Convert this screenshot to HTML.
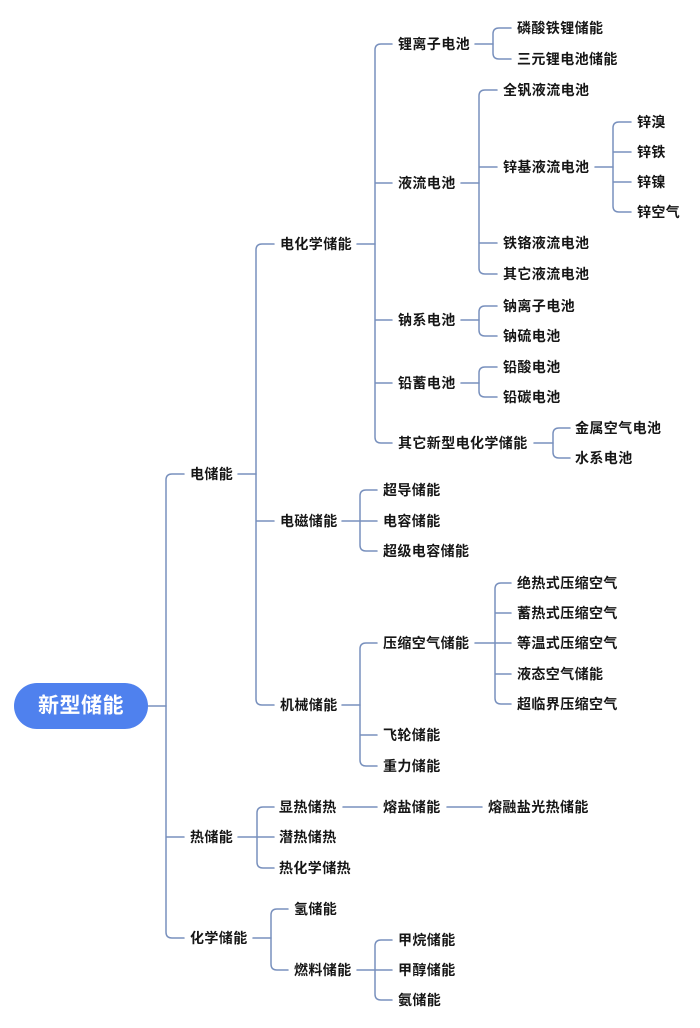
<!DOCTYPE html>
<html>
<head>
<meta charset="utf-8">
<style>
html,body{margin:0;padding:0;background:#fff;}
svg{display:block;}
text{font-family:"Liberation Sans","Noto Sans CJK SC",sans-serif;font-weight:bold;font-size:14px;letter-spacing:0.4px;fill:#161616;dominant-baseline:central;}
</style>
</head>
<body>
<svg width="700" height="1028" viewBox="0 0 700 1028" xmlns="http://www.w3.org/2000/svg">
<g fill="none" stroke="#7890bd" stroke-width="1.5" stroke-linecap="round">
<!-- root -->
<path d="M148,706 H166"/>
<path d="M184,474 H172 Q166,474 166,480 V932 Q166,938 172,938 H184 M166,837 H184"/>
<!-- 电储能 -->
<path d="M238,474 H256"/>
<path d="M274,244 H262 Q256,244 256,250 V699 Q256,705 262,705 H274 M256,521 H274"/>
<!-- 电化学储能 -->
<path d="M357,244 H375"/>
<path d="M392,44 H381 Q375,44 375,50 V437 Q375,443 381,443 H392 M375,183 H392 M375,320 H392 M375,383 H392"/>
<!-- 锂离子电池 -->
<path d="M475,44 H493"/>
<path d="M511,28 H499 Q493,28 493,34 V53 Q493,59 499,59 H511"/>
<!-- 液流电池 -->
<path d="M461,183 H479"/>
<path d="M497,90 H485 Q479,90 479,96 V268 Q479,274 485,274 H497 M479,167 H497 M479,243 H497"/>
<!-- 锌基液流电池 -->
<path d="M595,167 H613"/>
<path d="M631,122 H619 Q613,122 613,128 V206 Q613,212 619,212 H631 M613,152 H631 M613,182 H631"/>
<!-- 钠系电池 -->
<path d="M461,320 H479"/>
<path d="M497,306 H485 Q479,306 479,312 V330 Q479,336 485,336 H497"/>
<!-- 铅蓄电池 -->
<path d="M461,383 H479"/>
<path d="M497,367 H485 Q479,367 479,373 V391 Q479,397 485,397 H497"/>
<!-- 其它新型电化学储能 -->
<path d="M534,443 H553"/>
<path d="M570,428 H559 Q553,428 553,434 V452 Q553,458 559,458 H570"/>
<!-- 电磁储能 -->
<path d="M342,521 H360"/>
<path d="M377,490 H366 Q360,490 360,496 V545 Q360,551 366,551 H377 M360,521 H377"/>
<!-- 机械储能 -->
<path d="M342,705 H360"/>
<path d="M377,643 H366 Q360,643 360,649 V760 Q360,766 366,766 H377 M360,735 H377"/>
<!-- 压缩空气储能 -->
<path d="M475,643 H495"/>
<path d="M511,583 H501 Q495,583 495,589 V698 Q495,704 501,704 H511 M495,613 H511 M495,643 H511 M495,674 H511"/>
<!-- 热储能 -->
<path d="M238,837 H257"/>
<path d="M274,807 H263 Q257,807 257,813 V862 Q257,868 263,868 H274 M257,837 H274"/>
<!-- 显热储热 chain -->
<path d="M343,807 H377 M447,807 H482"/>
<!-- 化学储能 -->
<path d="M253,938 H271"/>
<path d="M288,909 H277 Q271,909 271,915 V964 Q271,970 277,970 H288"/>
<!-- 燃料储能 -->
<path d="M357,970 H375"/>
<path d="M392,940 H381 Q375,940 375,946 V994 Q375,1000 381,1000 H392 M375,970 H392"/>
</g>

<rect x="14" y="683" width="134" height="46" rx="23" ry="23" fill="#4f81ee"/>
<text x="81" y="706" text-anchor="middle" style="fill:#fff;font-size:21px;letter-spacing:0.5px">新型储能</text>

<text x="190" y="474">电储能</text>
<text x="190" y="837">热储能</text>
<text x="190" y="938">化学储能</text>

<text x="280" y="244">电化学储能</text>
<text x="280" y="521">电磁储能</text>
<text x="280" y="705">机械储能</text>

<text x="398" y="44">锂离子电池</text>
<text x="398" y="183">液流电池</text>
<text x="398" y="320">钠系电池</text>
<text x="398" y="383">铅蓄电池</text>
<text x="398" y="443">其它新型电化学储能</text>

<text x="517" y="28">磷酸铁锂储能</text>
<text x="517" y="59">三元锂电池储能</text>

<text x="503" y="90">全钒液流电池</text>
<text x="503" y="167">锌基液流电池</text>
<text x="503" y="243">铁铬液流电池</text>
<text x="503" y="274">其它液流电池</text>

<text x="637" y="122">锌溴</text>
<text x="637" y="152">锌铁</text>
<text x="637" y="182">锌镍</text>
<text x="637" y="212">锌空气</text>

<text x="503" y="306">钠离子电池</text>
<text x="503" y="336">钠硫电池</text>
<text x="503" y="367">铅酸电池</text>
<text x="503" y="397">铅碳电池</text>

<text x="575" y="428">金属空气电池</text>
<text x="575" y="458">水系电池</text>

<text x="383" y="490">超导储能</text>
<text x="383" y="521">电容储能</text>
<text x="383" y="551">超级电容储能</text>

<text x="383" y="643">压缩空气储能</text>
<text x="383" y="735">飞轮储能</text>
<text x="383" y="766">重力储能</text>

<text x="517" y="583">绝热式压缩空气</text>
<text x="517" y="613">蓄热式压缩空气</text>
<text x="517" y="643">等温式压缩空气</text>
<text x="517" y="674">液态空气储能</text>
<text x="517" y="704">超临界压缩空气</text>

<text x="279" y="807">显热储热</text>
<text x="279" y="837">潜热储热</text>
<text x="279" y="868">热化学储热</text>
<text x="383" y="807">熔盐储能</text>
<text x="488" y="807">熔融盐光热储能</text>

<text x="294" y="909">氢储能</text>
<text x="294" y="970">燃料储能</text>
<text x="398" y="940">甲烷储能</text>
<text x="398" y="970">甲醇储能</text>
<text x="398" y="1000">氨储能</text>
</svg>
</body>
</html>
